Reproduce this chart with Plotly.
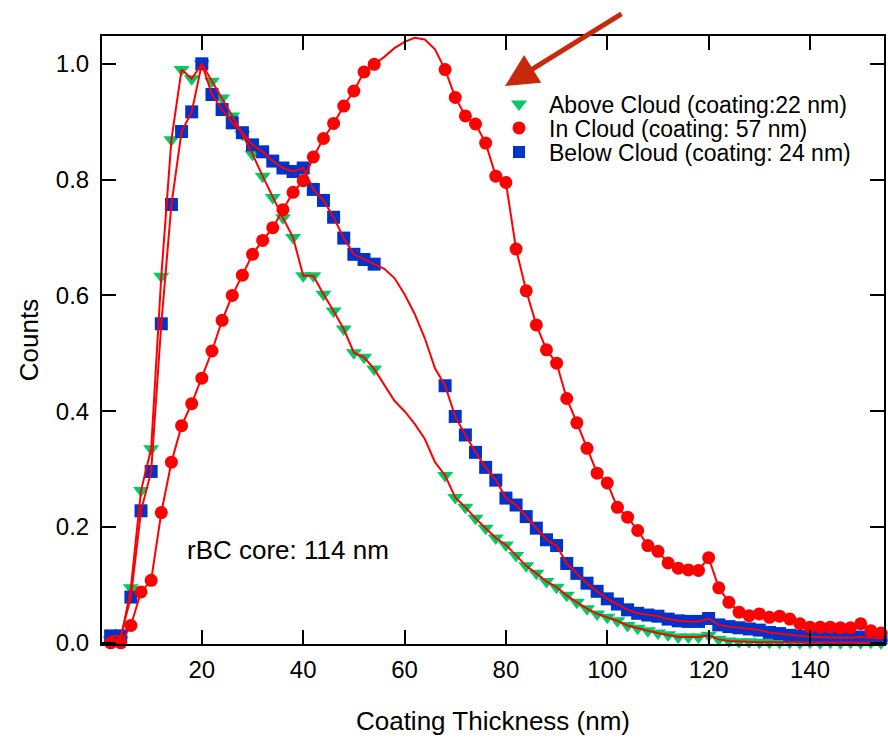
import plotly.graph_objects as go

# Coating thickness grid (nm)
thickness = [2, 4, 6, 8, 10, 12, 14, 16, 18, 20, 22, 24, 26, 28, 30, 32, 34, 36, 38, 40,
             42, 44, 46, 48, 50, 52, 54, 56, 58, 60, 62, 64, 66, 68, 70, 72, 74, 76, 78, 80,
             82, 84, 86, 88, 90, 92, 94, 96, 98, 100, 102, 104, 106, 108, 110, 112, 114, 116, 118, 120,
             122, 124, 126, 128, 130, 132, 134, 136, 138, 140, 142, 144, 146, 148, 150, 152, 154]

# Measured normalized counts (None = no measurement in that bin)
above_cloud = [0.005, 0.005, 0.095, 0.263, 0.335, 0.633, 0.869, 0.990, 0.974, 1.000,
               0.970, 0.941, 0.910, 0.878, 0.844, 0.806, 0.769, 0.734, 0.700, 0.634,
               0.634, 0.602, 0.573, 0.542, 0.501, 0.493, 0.473, None, None, None,
               None, None, None, 0.289, 0.251, 0.234, 0.215, 0.198, 0.181, 0.169,
               0.151, 0.133, 0.120, 0.106, 0.096, 0.082, 0.070, 0.059, 0.050, 0.044,
               0.038, 0.030, 0.025, 0.021, 0.017, 0.014, 0.010, 0.010, 0.010, 0.013,
               0.006, 0.003, 0.002, 0.002, 0.001, 0.001, 0.001, 0.001, 0.000, 0.001,
               0.000, 0.001, 0.000, 0.001, 0.000, 0.001, 0.000]

in_cloud = [0.000, 0.000, 0.030, 0.088, 0.108, 0.225, 0.312, 0.375, 0.413, 0.457,
            0.504, 0.557, 0.600, 0.635, 0.671, 0.695, 0.717, 0.748, 0.778, 0.798,
            0.839, 0.871, 0.897, 0.927, 0.953, 0.986, 0.999, None, None, None,
            None, None, None, 0.990, 0.942, 0.910, 0.896, 0.863, 0.806, 0.795,
            0.680, 0.608, 0.549, 0.506, 0.483, 0.422, 0.380, 0.336, 0.293, 0.276,
            0.234, 0.217, 0.194, 0.168, 0.158, 0.138, 0.129, 0.126, 0.125, 0.147,
            0.095, 0.070, 0.053, 0.047, 0.050, 0.044, 0.046, 0.041, 0.033, 0.027,
            0.027, 0.027, 0.026, 0.026, 0.033, 0.021, 0.017]

below_cloud = [0.012, 0.012, 0.079, 0.228, 0.296, 0.551, 0.757, 0.883, 0.917, 1.000,
               0.947, 0.921, 0.898, 0.881, 0.860, 0.848, 0.832, 0.820, 0.814, 0.820,
               0.783, 0.764, 0.735, 0.699, 0.671, 0.662, 0.654, None, None, None,
               None, None, None, 0.444, 0.391, 0.359, 0.329, 0.303, 0.281, 0.250,
               0.238, 0.218, 0.198, 0.178, 0.168, 0.137, 0.120, 0.103, 0.089, 0.076,
               0.067, 0.057, 0.051, 0.048, 0.046, 0.041, 0.038, 0.037, 0.037, 0.042,
               0.031, 0.028, 0.026, 0.024, 0.022, 0.018, 0.016, 0.013, 0.011, 0.010,
               0.010, 0.009, 0.009, 0.009, 0.010, 0.009, 0.008]

# Smoothed curves through each distribution, bridging the 56-66 nm bins
gap_bins = [56, 58, 60, 62, 64, 66]
above_cloud_gap = [0.445, 0.418, 0.400, 0.378, 0.352, 0.312]
in_cloud_gap = [1.012, 1.027, 1.038, 1.045, 1.042, 1.025]
below_cloud_gap = [0.646, 0.630, 0.602, 0.568, 0.526, 0.474]

y_ticks = [0.0, 0.2, 0.4, 0.6, 0.8, 1.0]
x_ticks = [20, 40, 60, 80, 100, 120, 140]

legend_names = ["Above Cloud (coating:22 nm)",
                "In Cloud (coating: 57 nm)",
                "Below Cloud (coating: 24 nm)"]

FONT = "Liberation Sans, Arial, Helvetica, sans-serif"
GREEN = "#00cc66"
RED = "#ff0000"
BLUE = "#0033cc"

# Plot-area geometry in pixels (used to place paper-referenced items)
PLOT_L, PLOT_R, PLOT_T, PLOT_B = 102, 884, 36, 644


def px_to_paper_x(px):
    return (px - PLOT_L) / (PLOT_R - PLOT_L)


def px_to_paper_y(py):
    return (PLOT_B - py) / (PLOT_B - PLOT_T)


def smooth_curve(values, gap_values):
    filled = list(values)
    for xb, v in zip(gap_bins, gap_values):
        filled[thickness.index(xb)] = v
    return filled


fig = go.Figure()

series = [
    (legend_names[0], above_cloud, above_cloud_gap, "triangle-down", GREEN, 14),
    (legend_names[2], below_cloud, below_cloud_gap, "square", BLUE, 13),
    (legend_names[1], in_cloud, in_cloud_gap, "circle", RED, 13),
]

for name, vals, gap_vals, symbol, color, size in series:
    fig.add_trace(go.Scatter(
        x=thickness, y=vals, mode="markers", name=name,
        marker=dict(symbol=symbol, color=color, size=size, line=dict(width=0)),
        cliponaxis=False, showlegend=False,
    ))

for name, vals, gap_vals, symbol, color, size in series:
    fig.add_trace(go.Scatter(
        x=thickness, y=smooth_curve(vals, gap_vals), mode="lines",
        line=dict(color=RED, width=2), showlegend=False, hoverinfo="skip",
    ))

# Legend entries (marker only), one legend box per row for tight spacing
legend_style = [
    (legend_names[0], "triangle-down", GREEN, 14, "legend", 104),
    (legend_names[1], "circle", RED, 13, "legend2", 128),
    (legend_names[2], "square", BLUE, 12, "legend3", 152),
]
legend_layouts = {}
for name, sym, col, sz, leg, row_y in legend_style:
    fig.add_trace(go.Scatter(
        x=[None], y=[None], mode="markers", name=name, legend=leg,
        marker=dict(symbol=sym, color=col, size=sz),
    ))
    legend_layouts[leg] = dict(
        x=px_to_paper_x(489), y=px_to_paper_y(row_y), xanchor="left", yanchor="middle",
        bgcolor="rgba(0,0,0,0)", borderwidth=0, itemwidth=50,
        font=dict(family=FONT, size=23, color="black"),
    )

fig.add_annotation(
    x=16.6, y=0.16, xref="x", yref="y", text="rBC core: 114 nm",
    showarrow=False, xanchor="left", yanchor="middle",
    font=dict(family=FONT, size=26, color="black"),
)

# Pointer toward the legend
fig.add_annotation(
    x=px_to_paper_x(505), y=px_to_paper_y(86), xref="paper", yref="paper",
    ax=118, ay=-73, axref="pixel", ayref="pixel",
    text="", showarrow=True, arrowhead=2, arrowsize=1.3, arrowwidth=5,
    arrowcolor="#c8280c", standoff=0,
)

axis_common = dict(
    showline=True, linecolor="black", linewidth=2, mirror="ticks",
    ticks="inside", ticklen=14, tickwidth=2, tickcolor="black",
    showgrid=False, zeroline=False,
    tickfont=dict(family=FONT, size=24, color="black"),
)

fig.update_xaxes(
    range=[0.3, 154.6], tickvals=x_ticks, ticktext=[str(v) for v in x_ticks],
    title=dict(text="Coating Thickness (nm)", font=dict(family=FONT, size=26, color="black"),
               standoff=30),
    ticklabelstandoff=3,
    **axis_common,
)
fig.update_yaxes(
    range=[-0.002, 1.048], tickvals=y_ticks, ticktext=[f"{v:.1f}" for v in y_ticks],
    title=dict(text="Counts", font=dict(family=FONT, size=26, color="black"), standoff=10),
    ticklabelstandoff=6,
    **axis_common,
)

fig.update_layout(
    width=888, height=738,
    margin=dict(l=PLOT_L, r=888 - PLOT_R, t=PLOT_T, b=738 - PLOT_B, autoexpand=False),
    paper_bgcolor="white", plot_bgcolor="white",
    font=dict(family=FONT, color="black"),
    **legend_layouts,
)

fig.write_html("out.html")
